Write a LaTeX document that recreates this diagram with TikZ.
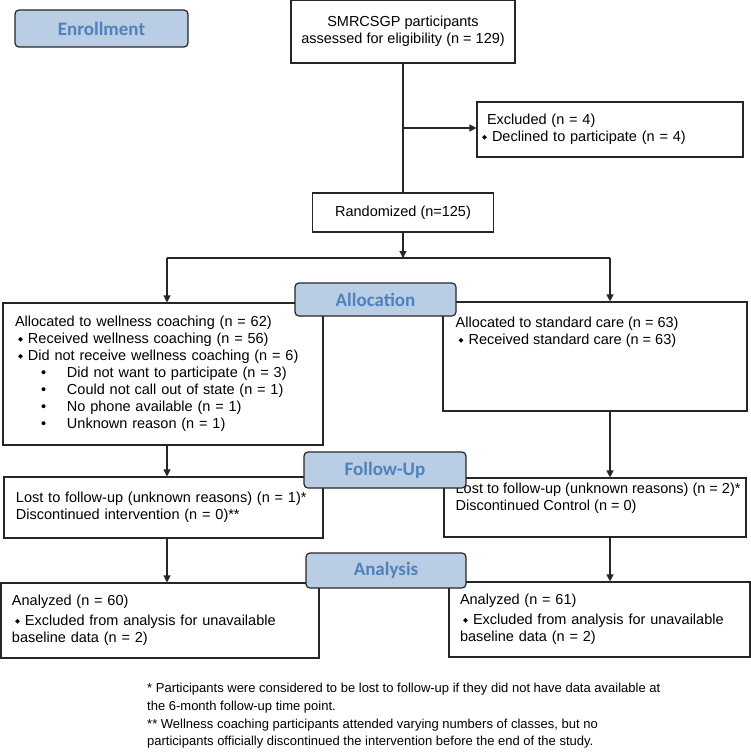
\documentclass[tikz,border=0pt]{standalone}
\usepackage{fontspec}
\setmainfont{Liberation Sans}
\newfontfamily\calibri{Carlito}
\newfontfamily\dejavu{DejaVu Sans}
\usetikzlibrary{arrows.meta,positioning}
\definecolor{stagefill}{HTML}{B9CDE5}
\definecolor{stagetext}{HTML}{4F81BD}
\definecolor{edge}{HTML}{262626}
\newcommand{\dmd}{{\dejavu\fontsize{6.5}{6.5}\selectfont\raisebox{2.2pt}{◆}}\hspace{5pt}}
\newcommand{\bul}{\hspace*{26pt}\makebox[26pt][l]{•}}
\tikzset{
  stage/.style={draw=edge, line width=1.2pt, fill=stagefill, rounded corners=4pt,
    font=\calibri\bfseries\fontsize{19}{22}\selectfont, text=stagetext, inner sep=0pt},
  box/.style={draw=edge, line width=1.1pt, fill=white, inner sep=0pt},
  txt/.style={align=left, inner sep=0pt, font=\fontsize{14.5}{17}\selectfont},
  link/.style={draw=edge, line width=1.1pt},
  arr/.style={link, -{Triangle[length=7pt,width=7pt]}}
}
\begin{document}
\begin{tikzpicture}[x=1pt,y=-1pt]
  \useasboundingbox (0,0) rectangle (751,755);
  % enrollment
  \node (smrc) at (403,31.5) [box, txt, align=center, minimum width=224pt,
    minimum height=63pt] {SMRCSGP participants\\assessed for eligibility (n = 129)};
  \node (excl) at (610,129.5) [box, txt, minimum width=266pt, minimum height=55pt,
    text width=246pt, inner xsep=10pt] {Excluded (n = 4)\\
    \hspace*{-5pt}\dmd Declined to participate (n = 4)};
  \node (rand) at (403,212.5) [box, txt, minimum width=181pt,
    minimum height=39pt] {Randomized (n=125)};
  % allocation
  \node (wc) at (163,374) [box, txt, minimum width=320pt, minimum height=142pt,
    text width=296pt, inner xsep=12pt] {Allocated to wellness coaching (n = 62)\\
    \hspace*{3pt}\dmd Received wellness coaching (n = 56)\\
    \hspace*{3pt}\dmd Did not receive wellness coaching (n = 6)\\
    \bul Did not want to participate (n = 3)\\
    \bul Could not call out of state (n = 1)\\
    \bul No phone available (n = 1)\\
    \bul Unknown reason (n = 1)};
  \node (sc) at (595,356.5) [box, minimum width=304pt, minimum height=109pt] {};
  \node (sctxt) [txt, below right=15.5pt and 13pt of sc.north west]
    {Allocated to standard care (n = 63)\\
    \hspace*{3pt}\dmd Received standard care (n = 63)};
  % follow-up
  \node (lfu) at (163.5,507.5) [box, txt, minimum width=319pt, minimum height=61pt,
    text width=295pt, inner xsep=12pt] {Lost to follow-up (unknown reasons) (n = 1)*\\
    Discontinued intervention (n = 0)**};
  \node (rfu) at (595,507.5) [box, minimum width=302pt, minimum height=59pt] {};
  \node (rfutxt) [txt, below right=5.5pt and 12pt of rfu.north west]
    {Lost to follow-up (unknown reasons) (n = 2)*\\
    Discontinued Control (n = 0)};
  % analysis
  \node (lan) at (160,620.5) [box, txt, minimum width=318pt, minimum height=75pt,
    text width=296pt, inner xsep=11pt] {Analyzed (n = 60)\\[3pt]
    \hspace*{3pt}\dmd Excluded from analysis for unavailable\\
    baseline data (n = 2)};
  \node (ran) at (599.5,619.5) [box, txt, minimum width=301pt, minimum height=75pt,
    text width=279pt, inner xsep=11pt] {Analyzed (n = 61)\\[3pt]
    \hspace*{3pt}\dmd Excluded from analysis for unavailable\\
    baseline data (n = 2)};
  \node (note) at (147,683) [anchor=north west, align=left, inner sep=0pt,
    font=\fontsize{13}{17.7}\selectfont]
    {* Participants were considered to be lost to follow-up if they did not have data available at\\
    the 6-month follow-up time point.\\
    ** Wellness coaching participants attended varying numbers of classes, but no\\
    participants officially discontinued the intervention before the end of the study.};
  % connectors
  \coordinate (exbr) at (403,128);
  \coordinate (split) at (403,258);
  \coordinate (lc) at (167,258);
  \coordinate (rc) at (610,258);
  \draw[link] (smrc.south) -- (rand.north);
  \draw[arr] (exbr) -- (exbr -| excl.west);
  \draw[arr] (rand.south) -- (split);
  \draw[link] (lc) -- (rc);
  \draw[arr] (lc) -- (lc |- wc.north);
  \draw[arr] (rc) -- (rc |- sc.north);
  \draw[arr] (lc |- wc.south) -- (lc |- lfu.north);
  \draw[arr] (rc |- sc.south) -- (rc |- rfu.north);
  \draw[arr] (lc |- lfu.south) -- (lc |- lan.north);
  \draw[arr] (rc |- rfu.south) -- (rc |- ran.north);
  % stage labels
  \node (enrol) at (101.5,28.5) [stage, minimum width=173pt, minimum height=37pt] {Enrollment};
  \node (alloc) at (375.5,299.5) [stage, minimum width=161pt, minimum height=33pt] {Allocation};
  \node (follow) at (385,470) [stage, minimum width=162pt, minimum height=36pt] {Follow-Up};
  \node (anal) at (386,570.5) [stage, minimum width=160pt, minimum height=35pt] {Analysis};
\end{tikzpicture}
\end{document}
